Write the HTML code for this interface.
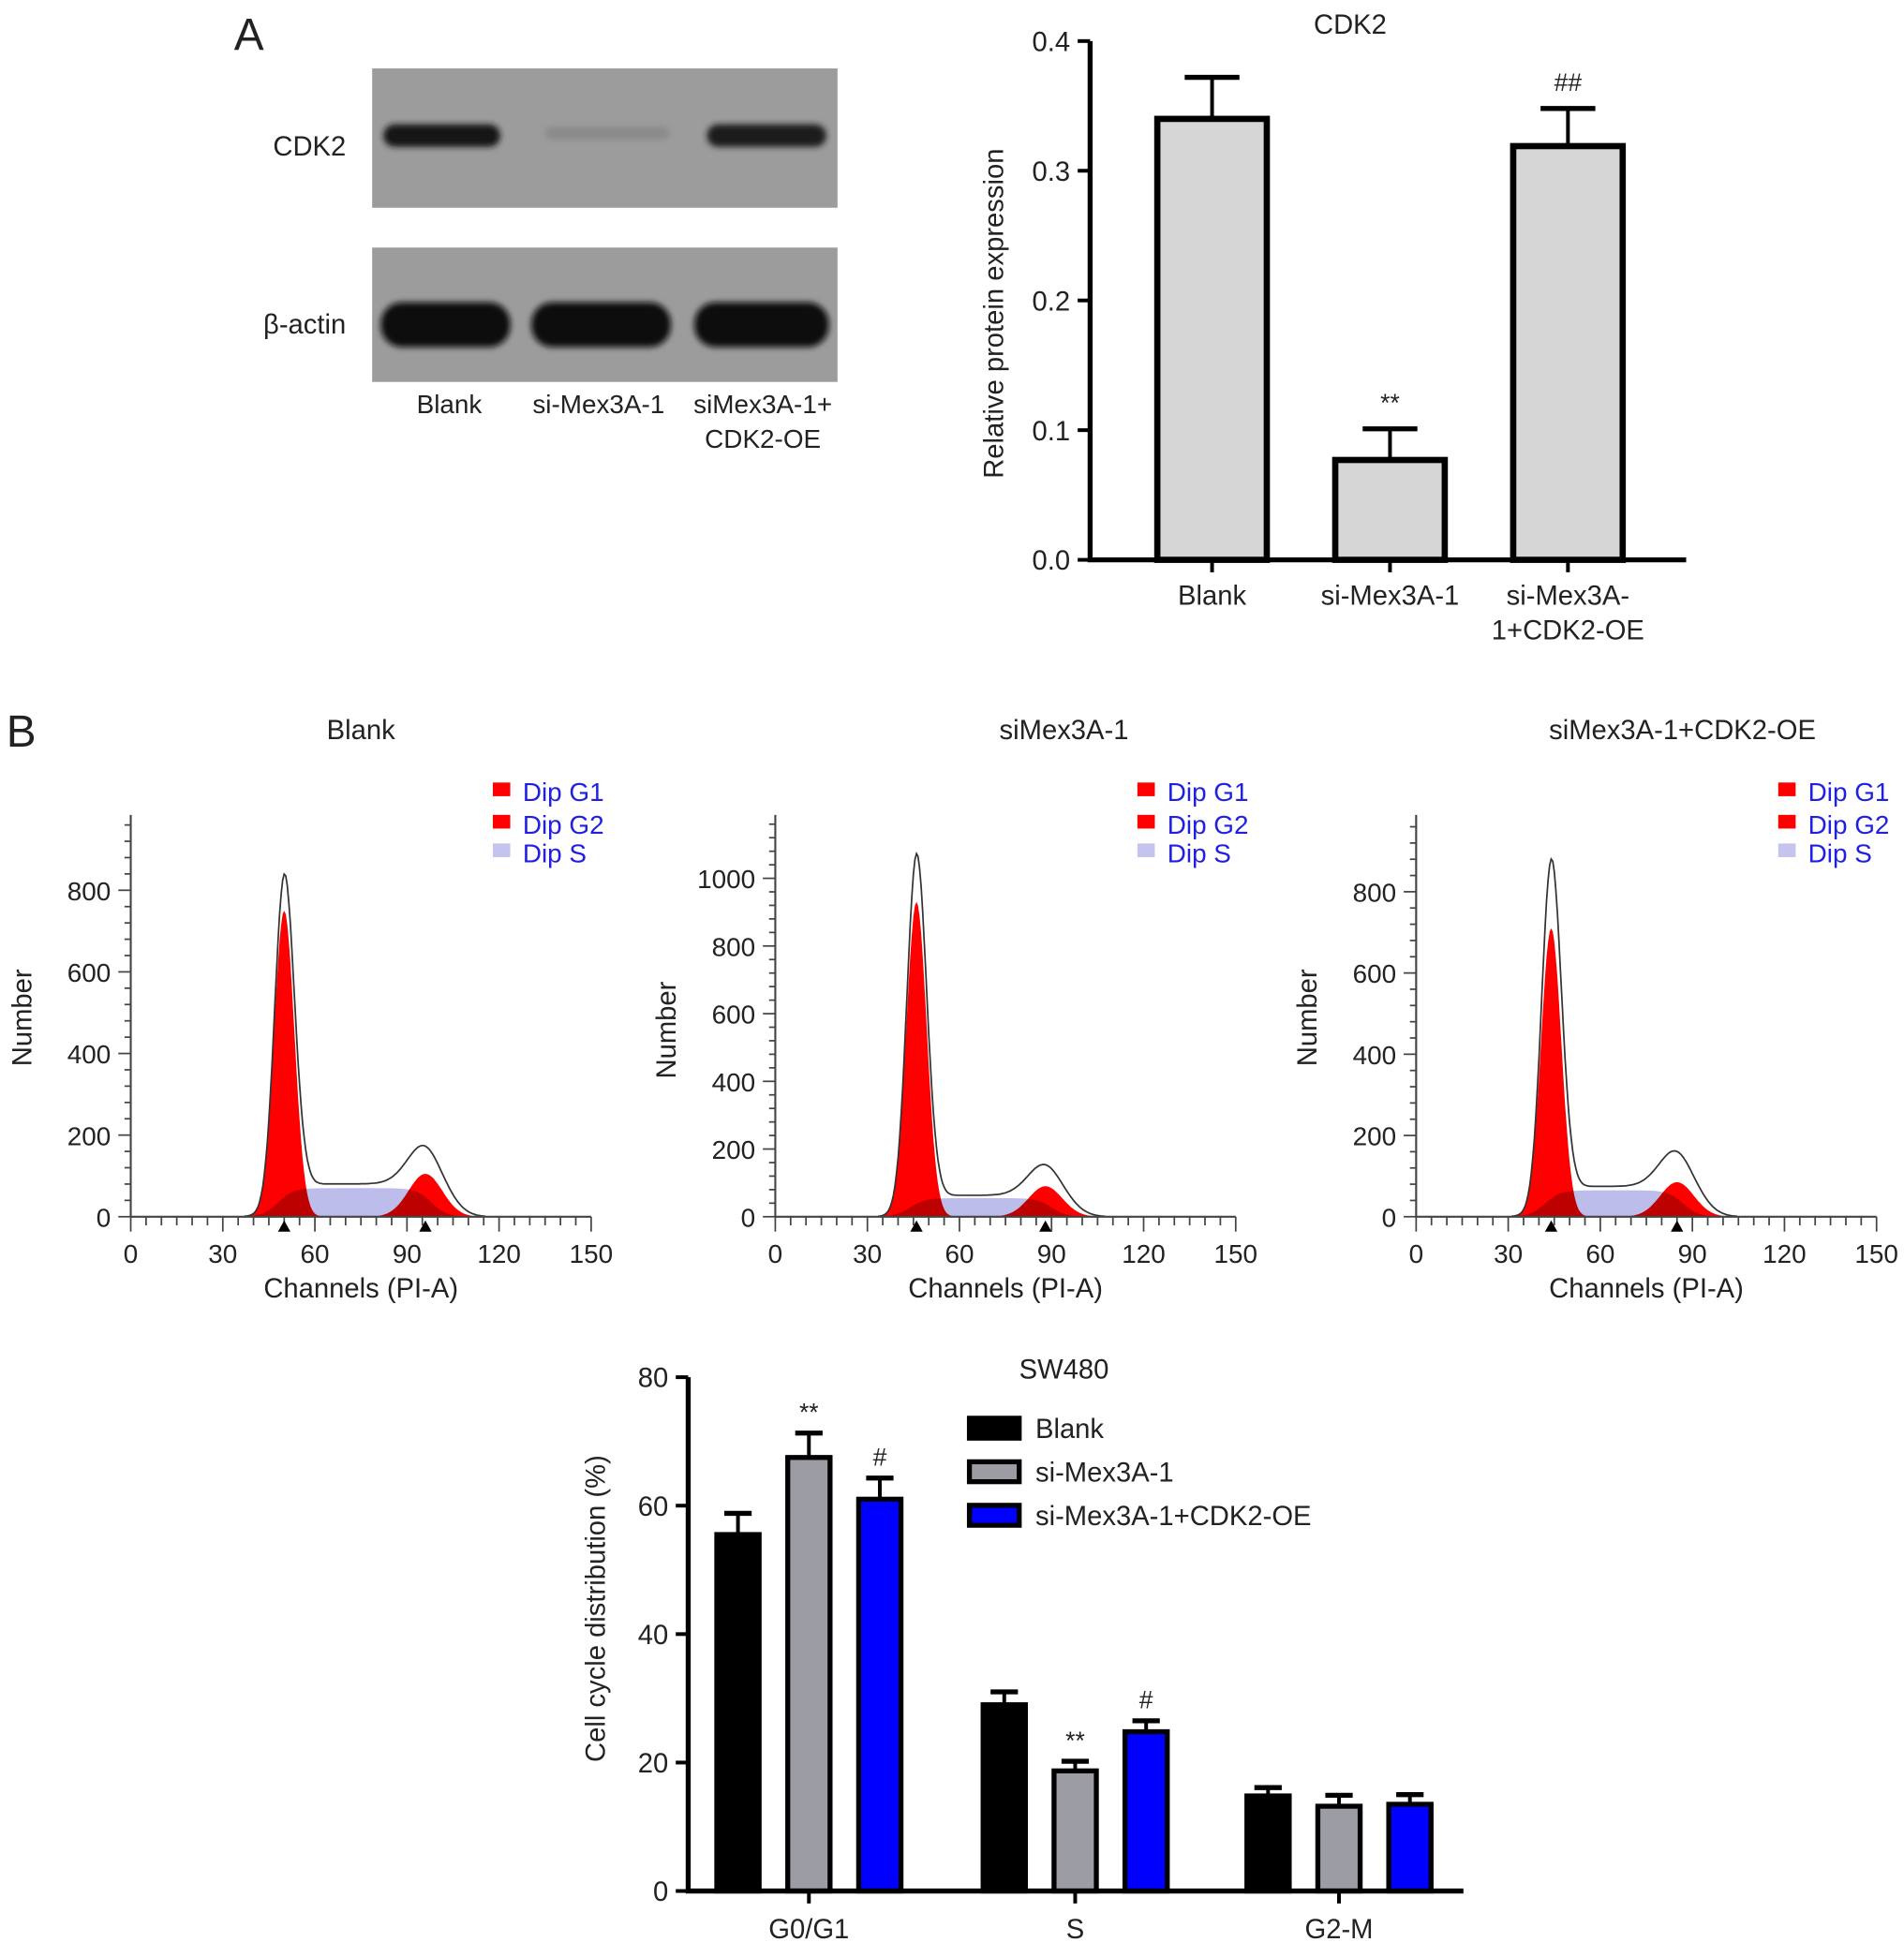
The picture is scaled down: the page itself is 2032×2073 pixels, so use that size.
<!DOCTYPE html>
<html><head><meta charset="utf-8"><style>
html,body{margin:0;padding:0;background:#fff}
svg{display:block}
text{font-family:"Liberation Sans",Arial,sans-serif;fill:#222}
</style></head><body>
<svg id="fig" width="2032" height="2073" viewBox="0 0 1530 1561">
<defs>
<filter id="blur2" x="-20%" y="-50%" width="140%" height="200%"><feGaussianBlur stdDeviation="2.5"/></filter>
</defs>
<text x="188" y="40" font-size="36">A</text>
<text x="5" y="600" font-size="36">B</text>
<g>
<rect x="299" y="55" width="374" height="112" fill="#9c9c9c"/>
<rect x="299" y="199" width="374" height="108" fill="#9c9c9c"/>
<rect x="308" y="100" width="94" height="18" rx="9" fill="#151515" filter="url(#blur2)"/>
<rect x="438" y="102" width="100" height="10" rx="5" fill="#8a8a8a" filter="url(#blur2)"/>
<rect x="568" y="100" width="96" height="18" rx="9" fill="#1c1c1c" filter="url(#blur2)"/>
<rect x="306" y="243" width="104" height="36" rx="17" fill="#0b0b0b" filter="url(#blur2)"/>
<rect x="427" y="243" width="112" height="36" rx="17" fill="#0b0b0b" filter="url(#blur2)"/>
<rect x="558" y="243" width="108" height="36" rx="17" fill="#0b0b0b" filter="url(#blur2)"/>
<text x="278" y="125" font-size="22" text-anchor="end">CDK2</text>
<text x="278" y="268" font-size="22" text-anchor="end">β-actin</text>
<text x="361" y="332" font-size="21" text-anchor="middle">Blank</text>
<text x="481" y="332" font-size="21" text-anchor="middle">si-Mex3A-1</text>
<text x="613" y="332" font-size="21" text-anchor="middle">siMex3A-1+</text>
<text x="613" y="360" font-size="21" text-anchor="middle">CDK2-OE</text>
</g>
<g id="chartA"></g>
<g id="hists"></g>
<g id="chartB"></g>
</svg>
<script>
const NS="http://www.w3.org/2000/svg";
function mk(p,tag,attrs,txt){const e=document.createElementNS(NS,tag);for(const k in attrs)e.setAttribute(k,attrs[k]);if(txt!==undefined)e.textContent=txt;p.appendChild(e);return e;}

// ---- Chart A data ----
const aCategories=["Blank","si-Mex3A-1","si-Mex3A-\n1+CDK2-OE"];
const aValues=[0.34,0.077,0.319];
const aErrors=[0.032,0.024,0.029];
const aMarks=["","**","##"];
const aTicks=[0,0.1,0.2,0.3,0.4];

// ---- Histogram data ----
const hTitles=["Blank","siMex3A-1","siMex3A-1+CDK2-OE"];
const hYMax=[1000,1200,1000];
const hYTicks=[[0,200,400,600,800],[0,200,400,600,800,1000],[0,200,400,600,800]];
const hG1Pos=[50,46,44];
const hG1Height=[750,930,710];
const hG1Peak=[845,1090,890];
const hG2Pos=[96,88,85];
const hG2Height=[105,90,85];
const hG2Peak=[140,128,130];
const hSLevel=[70,55,65];
const hXTicks=[0,30,60,90,120,150];

// ---- Chart B data ----
const bCategories=["G0/G1","S","G2-M"];
const bSeries=["Blank","si-Mex3A-1","si-Mex3A-1+CDK2-OE"];
const bBlank=[55.5,29,14.8];
const bSi=[67.5,18.7,13.2];
const bOE=[61,24.8,13.5];
const bBlankErr=[3.3,2,1.3];
const bSiErr=[3.8,1.5,1.7];
const bOEErr=[3.3,1.7,1.5];
const bMarksSi=["**","**",""];
const bMarksOE=["#","#",""];
const bTicks=[0,20,40,60,80];

// ---- draw chart A ----
(function(){
const g=document.getElementById('chartA');
const x0=876,x1=1355,yb=450,yt=33;
const y=v=>yb-(v/0.4)*(yb-yt);
const cx=i=>974+i*143;
mk(g,'text',{x:1085,y:27,'font-size':22,'text-anchor':'middle',},'CDK2');
const t=mk(g,'text',{x:0,y:0,'font-size':22,'text-anchor':'middle',transform:'translate(806,252) rotate(-90)'},'Relative protein expression');


aTicks.forEach(v=>{
 const l=mk(g,'line',{x1:x0-10,x2:x0,y1:y(v),y2:y(v),stroke:'#000','stroke-width':3});
 
 
 const tx=mk(g,'text',{x:x0-16,y:y(v)+8,'font-size':22,'text-anchor':'end'},v.toFixed(1));
 
 
});
aValues.forEach((v,i)=>{
 const c=cx(i);
 const e=mk(g,'line',{x1:c,x2:c,y1:y(v),y2:y(v+aErrors[i]),stroke:'#000','stroke-width':3});
 
 
 const cap=mk(g,'line',{x1:c-22,x2:c+22,y1:y(v+aErrors[i]),y2:y(v+aErrors[i]),stroke:'#000','stroke-width':4});
 
 
 const r=mk(g,'rect',{x:c-44,y:y(v),width:88,height:yb-y(v),fill:'#d6d6d6',stroke:'#000','stroke-width':5});
 
 
 const tk=mk(g,'line',{x1:c,x2:c,y1:yb,y2:yb+10,stroke:'#000','stroke-width':3});
 
 
 aCategories[i].split('\n').forEach((s,j)=>{
  const lt=mk(g,'text',{x:c,y:486+j*28,'font-size':22,'text-anchor':'middle'},s);
  
  
 });
 if(aMarks[i]){
  const m=mk(g,'text',{x:c,y:y(v+aErrors[i])-14,'font-size':20,'text-anchor':'middle'},aMarks[i]);
  
  
 }
});
const ax=mk(g,'path',{d:`M${x0},${yt} V${yb} H${x1}`,fill:'none',stroke:'#000','stroke-width':4});


})();

// ---- draw histograms ----
(function(){
const root=document.getElementById('hists');
const axX=[105,623,1138], yt=655, w=370;
const zeroY=[978,978,978];
const pxPer200=[65.6,54.4,65.3];
const titleX=[290,855,1352];
const gauss=(c,x,s)=>Math.exp(-((x-c)*(x-c))/(2*s*s));
const sFn=(i,x)=>{const a=hG1Pos[i]-2,b=hG2Pos[i]+2;const up=1/(1+Math.exp(-(x-a)/2.5)),dn=1/(1+Math.exp((x-b)/2.5));return hSLevel[i]*up*dn;};
for(let i=0;i<3;i++){
 const g=mk(root,'g',{});
 
 
 const X=c=>axX[i]+c/150*w;
 const Y=v=>zeroY[i]-v/200*pxPer200[i];
 const tt=mk(g,'text',{x:titleX[i],y:594,'font-size':22,'text-anchor':'middle'},hTitles[i]);
 
 
 const yl=mk(g,'text',{x:0,y:0,'font-size':22,'text-anchor':'middle',transform:`translate(${axX[i]-80},${i==1?828:818}) rotate(-90)`},'Number');
 
 
 const xl=mk(g,'text',{x:X(75),y:1043,'font-size':22,'text-anchor':'middle'},'Channels (PI-A)');
 
 
 const sd1=3.3, sd2=5.5;
 let pS='',pG1='',pG2='',pO='';
 for(let c=0;c<=150;c+=0.5){
  const s=sFn(i,c), g1=hG1Height[i]*gauss(hG1Pos[i],c,sd1), g2=hG2Height[i]*gauss(hG2Pos[i],c,sd2);
  const o=(hG1Peak[i]-65)*gauss(hG1Pos[i],c,sd1*0.95)+ (hG2Peak[i]-hSLevel[i]*0.3)*gauss(hG2Pos[i]+1,c,sd2*1.1)+ (s>0?s*1.15:0) + 30*gauss(hG1Pos[i]+5,c,2.5);
  pS+=`${X(c).toFixed(1)},${Y(s).toFixed(1)} `;
  pG1+=`${X(c).toFixed(1)},${Y(g1).toFixed(1)} `;
  pG2+=`${X(c).toFixed(1)},${Y(g2).toFixed(1)} `;
  if(o>1) pO+=`${X(c).toFixed(1)},${Y(o).toFixed(1)} `;
 }
 const base=`${X(150)},${Y(0)} ${X(0)},${Y(0)}`;
 const r1=mk(g,'polygon',{points:pG1+base,fill:'#ff0000'});
 
 
 const r2=mk(g,'polygon',{points:pG2+base,fill:'#ff0000'});
 
 
 const rs=mk(g,'polygon',{points:pS+base,fill:'#bdbdec',style:'mix-blend-mode:multiply'});
 
 
 const ol=mk(g,'polyline',{points:pO,fill:'none',stroke:'#333','stroke-width':1.3});
 
 
 const ax=mk(g,'path',{d:`M${axX[i]},${yt} V${zeroY[i]} H${axX[i]+w}`,fill:'none',stroke:'#444','stroke-width':1.6});
 
 
 for(let c=0;c<=150;c+=5){
  const tk=mk(g,'line',{x1:X(c),x2:X(c),y1:zeroY[i],y2:zeroY[i]+(c%30==0?12:7),stroke:'#444','stroke-width':1.3});
  
  
 }
 hXTicks.forEach(c=>{
  const tl=mk(g,'text',{x:X(c),y:1015,'font-size':21,'text-anchor':'middle'},String(c));
  
  
 });
 for(let v=0;v<=hYMax[i];v+=40){
  const yy=Y(v); if(yy<yt) break;
  const tk=mk(g,'line',{x1:axX[i]-(v%200==0?10:5),x2:axX[i],y1:yy,y2:yy,stroke:'#444','stroke-width':1.3});
  
  
 }
 hYTicks[i].forEach(v=>{
  const tl=mk(g,'text',{x:axX[i]-16,y:Y(v)+8,'font-size':21,'text-anchor':'end'},String(v));
  
  
 });
 [hG1Pos[i],hG2Pos[i]].forEach(c=>{
  const m=mk(g,'polygon',{points:`${X(c)-5},${zeroY[i]+12} ${X(c)+5},${zeroY[i]+12} ${X(c)},${zeroY[i]+3}`,fill:'#000'});
  
  
 });
 const lx=axX[i]+291;
 [['Dip G1','#ff0000',636],['Dip G2','#ff0000',662],['Dip S','#c4c4ee',685]].forEach(([t,col,yy])=>{
  const sq=mk(g,'rect',{x:lx,y:yy-7,width:14,height:11,fill:col});
  
  
  const lt=mk(g,'text',{x:lx+24,y:yy+8,'font-size':21,style:'fill:#2020e0'},t);
  
  
 });
}
})();

// ---- draw chart B ----
(function(){
const g=document.getElementById('chartB');
const x0=553,x1=1176,yb=1520,yt=1107;
const y=v=>yb-(v/80)*(yb-yt);
const groupX=[650,864,1076];
const off=[-57,0,57];
const cols=['#000','#9c9ca4','#0000ff'];
const vals=[bBlank,bSi,bOE], errs=[bBlankErr,bSiErr,bOEErr], marks=[null,bMarksSi,bMarksOE];
mk(g,'text',{x:855,y:1108,'font-size':22,'text-anchor':'middle',},'SW480');
const t=mk(g,'text',{x:0,y:0,'font-size':22,'text-anchor':'middle',transform:'translate(486,1293) rotate(-90)'},'Cell cycle distribution (%)');


bTicks.forEach(v=>{
 const l=mk(g,'line',{x1:x0-10,x2:x0,y1:y(v),y2:y(v),stroke:'#000','stroke-width':3});
 
 
 const tx=mk(g,'text',{x:x0-16,y:y(v)+8,'font-size':22,'text-anchor':'end'},String(v));
 
 
});
bCategories.forEach((cat,ci)=>{
 for(let s=0;s<3;s++){
  const c=groupX[ci]+off[s], v=vals[s][ci], e=errs[s][ci];
  const el=mk(g,'line',{x1:c,x2:c,y1:y(v),y2:y(v+e),stroke:'#000','stroke-width':3});
  
  
  const cap=mk(g,'line',{x1:c-11,x2:c+11,y1:y(v+e),y2:y(v+e),stroke:'#000','stroke-width':4});
  
  
  const r=mk(g,'rect',{x:c-17,y:y(v),width:34,height:yb-y(v),fill:cols[s],stroke:'#000','stroke-width':4});
  
  
  if(marks[s]&&marks[s][ci]){
   const m=mk(g,'text',{x:c,y:y(v+e)-10,'font-size':20,'text-anchor':'middle'},marks[s][ci]);
   
   
  }
 }
 const tk=mk(g,'line',{x1:groupX[ci],x2:groupX[ci],y1:yb,y2:yb+10,stroke:'#000','stroke-width':3});
 
 
 const lt=mk(g,'text',{x:groupX[ci],y:1558,'font-size':22,'text-anchor':'middle'},cat);
 
 
});
bSeries.forEach((s,i)=>{
 const yy=1140+i*35;
 const sw=mk(g,'rect',{x:779,y:yy,width:40,height:16,fill:cols[i],stroke:'#000','stroke-width':4});
 
 
 const lt=mk(g,'text',{x:832,y:yy+16,'font-size':22},s);
 
 
});
const ax=mk(g,'path',{d:`M${x0},${yt} V${yb} H${x1}`,fill:'none',stroke:'#000','stroke-width':4});


})();
</script>
</body></html>
